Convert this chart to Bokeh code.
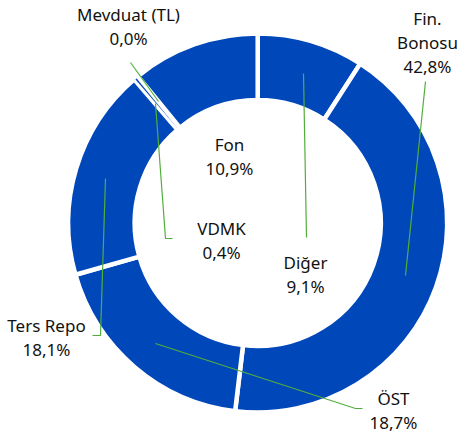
import math
from bokeh.plotting import figure
from bokeh.models import Range1d, ColumnDataSource
from bokeh.embed import file_html
from bokeh.resources import INLINE
from bokeh.core.properties import value

# ---- data ----
categories = ["Diğer", "Fin.\nBonosu", "ÖST", "Ters Repo", "VDMK", "Mevduat (TL)", "Fon"]
shares = [9.1, 42.8, 18.7, 18.1, 0.4, 0.0, 10.9]

# ---- layout (reference pixel coordinates) ----
W, H = 457, 438
IMG_H = 438


def yv(img_y):
    return IMG_H - img_y


BLUE = "#0047BA"
GREEN = "#52AE3C"
FONT = "Noto Sans"

cx, cy = 257.2, yv(222.5)
r_out, r_in = 189.5, 123.0
gap = 4.5

label_x = [305, 427, 393, 46, 221, 128, 229]
label_y = [274, 42, 410, 337, 240, 26, 156]

leader_x = [[306, 303], [425, 405], [362, 355, 155], [92, 100, 105], [172, 165, 155], [130, 158], []]
leader_y = [[237, 73], [81, 275], [408, 408, 343], [335, 335, 178], [238, 238, 103], [62, 101], []]

# ---- wedges ----
total = sum(shares)
cum = 0.0
ws = dict(start=[], end=[], lw=[])
for s in shares:
    a0 = cum / total
    cum += s
    a1 = cum / total
    if s <= 0:
        continue
    ws["start"].append(math.pi / 2 - 2 * math.pi * a1)
    ws["end"].append(math.pi / 2 - 2 * math.pi * a0)
    arc = (a1 - a0) * 2 * math.pi * r_in
    ws["lw"].append(min(gap, 0.6 * arc))

p = figure(width=W, height=H, output_backend="svg", toolbar_location=None,
           x_range=Range1d(0, W), y_range=Range1d(yv(H), yv(0)),
           min_border=0, outline_line_color=None)
p.axis.visible = False
p.grid.visible = False
p.background_fill_color = "white"
p.border_fill_color = "white"

src = ColumnDataSource(ws)
p.annular_wedge(x=cx, y=cy, inner_radius=r_in, outer_radius=r_out,
                start_angle="start", end_angle="end", source=src,
                fill_color=BLUE, line_color="white", line_width="lw")

# ---- leader lines ----
lx, ly = [], []
for xs, ys in zip(leader_x, leader_y):
    if xs:
        lx.append(xs)
        ly.append([yv(v) for v in ys])
p.multi_line(xs=lx, ys=ly, line_color=GREEN, line_width=1.2)

# ---- labels ----
texts = [f"{c}\n{str(f'{v:.1f}').replace('.', ',')}%" for c, v in zip(categories, shares)]
p.text(x=label_x, y=[yv(v) for v in label_y], text=texts,
       text_font=value(FONT), text_font_size="17px", text_color="#111111",
       text_align="center", text_baseline="middle", text_line_height=1.06)

open("out.html", "w").write(file_html(p, INLINE))
